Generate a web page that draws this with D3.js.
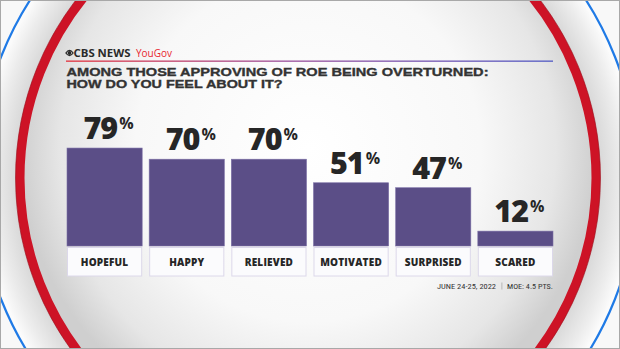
<!DOCTYPE html>
<html><head><meta charset="utf-8">
<script src="https://cdn.jsdelivr.net/npm/d3@7"></script>
<style>html,body{margin:0;padding:0;background:#fff;}svg{display:block;}</style>
</head><body>
<svg id="c" width="620" height="349"></svg>
<script>
const categories = ["HOPEFUL","HAPPY","RELIEVED","MOTIVATED","SURPRISED","SCARED"];
const values = [79,70,70,51,47,12];
const titleLines = ["AMONG THOSE APPROVING OF ROE BEING OVERTURNED:","HOW DO YOU FEEL ABOUT IT?"];
const footerDate = "JUNE 24-25, 2022";
const footerMoe = "MOE: 4.5 PTS.";

const svg = d3.select("#c");
const W = 620, H = 349;
const bold = "'Open Sans', Lato, sans-serif";
const defs = svg.append("defs");
const rg = defs.append("radialGradient").attr("id","inner").attr("cx","50%").attr("cy","45%").attr("r","50%");
rg.append("stop").attr("offset","0%").attr("stop-color","#ffffff");
rg.append("stop").attr("offset","60%").attr("stop-color","#f8f8f8");
rg.append("stop").attr("offset","86%").attr("stop-color","#e6e6e6");
rg.append("stop").attr("offset","100%").attr("stop-color","#cfcfcf");
const band = defs.append("radialGradient").attr("id","band").attr("cx","50%").attr("cy","50%").attr("r","50%");
band.append("stop").attr("offset","85%").attr("stop-color","#c4c4c4");
band.append("stop").attr("offset","90%").attr("stop-color","#dadada");
band.append("stop").attr("offset","96%").attr("stop-color","#ececec");
band.append("stop").attr("offset","100%").attr("stop-color","#fafafa");
const lg = defs.append("linearGradient").attr("id","rule");
lg.append("stop").attr("offset","0%").attr("stop-color","#e3313c");
lg.append("stop").attr("offset","45%").attr("stop-color","#9a4e9a");
lg.append("stop").attr("offset","100%").attr("stop-color","#5059c4");

// background
svg.append("rect").attr("width",W).attr("height",H).attr("fill","#f8f8f8");
const cx = 308, cy = 178;
svg.append("circle").attr("cx",cx).attr("cy",cy).attr("r",330).attr("fill","#fbfbfb").attr("stroke","#1f7ae6").attr("stroke-width",2.2);
svg.append("circle").attr("cx",cx).attr("cy",cy).attr("r",326).attr("fill","url(#band)");
svg.append("circle").attr("cx",cx).attr("cy",cy).attr("r",288).attr("fill","url(#inner)").attr("stroke","#cd1326").attr("stroke-width",9);
svg.append("circle").attr("cx",cx).attr("cy",cy).attr("r",292.5).attr("fill","none").attr("stroke","#9a0d1a").attr("stroke-width",1).attr("opacity",0.6);
svg.append("rect").attr("x",0.5).attr("y",0.5).attr("width",W-1).attr("height",H-1).attr("fill","none").attr("stroke","#a8a8a8").attr("stroke-width",1);

// logo
const eye = svg.append("g").attr("transform","translate(69.5,53)");
eye.append("path").attr("d","M-3.6,0 Q0,-5.2 3.6,0 Q0,5.2 -3.6,0 Z").attr("fill","none").attr("stroke","#2a2a2a").attr("stroke-width",1.3);
eye.append("circle").attr("r",1.9).attr("fill","#2a2a2a");
svg.append("text").attr("x",73.5).attr("y",57).attr("font-family",bold).attr("font-weight",700)
  .attr("font-size",10.5).attr("fill","#2a2a2a").attr("textLength",57).attr("lengthAdjust","spacingAndGlyphs").text("CBS NEWS");
svg.append("text").attr("x",136).attr("y",57).attr("font-family","'Open Sans', sans-serif").attr("font-weight",400)
  .attr("font-size",10.5).attr("fill","#e8262f").attr("textLength",36).attr("lengthAdjust","spacingAndGlyphs").text("YouGov");
svg.append("rect").attr("x",66).attr("y",60.5).attr("width",487).attr("height",1.3).attr("fill","url(#rule)");

// title
svg.selectAll("text.title").data(titleLines).join("text").attr("class","title")
  .attr("x",66.5).attr("y",(d,i)=>75.5+i*12.5)
  .attr("font-family","'Liberation Sans', Arial, sans-serif").attr("font-weight",700).attr("font-size",11)
  .attr("fill","#333333").attr("stroke","#333333").attr("stroke-width",0.35)
  .attr("textLength",(d,i)=>i===0?422:216).attr("lengthAdjust","spacingAndGlyphs")
  .text(d=>d);

// scales
const x = d3.scaleBand().domain(categories).range([67,553]).paddingInner(0.085).paddingOuter(0);
const y = d3.scaleLinear().domain([0,100]).range([246,122]);

const g = svg.append("g");
g.selectAll("rect.bar").data(values).join("rect").attr("class","bar")
  .attr("x",(d,i)=>x(categories[i])).attr("width",x.bandwidth())
  .attr("y",d=>y(d)).attr("height",d=>y(0)-y(d))
  .attr("fill","#5b4e87").attr("stroke","#7c70a6").attr("stroke-width",0.6);

// category boxes
g.selectAll("rect.box").data(categories).join("rect").attr("class","box")
  .attr("x",d=>x(d)+0.5).attr("width",x.bandwidth()-1).attr("y",247.5).attr("height",28.5)
  .attr("fill","#fbfbfd").attr("stroke","#dcd8ea").attr("stroke-width",1);
g.selectAll("text.cat").data(categories).join("text").attr("class","cat")
  .attr("x",d=>x(d)+x.bandwidth()/2).attr("y",266)
  .attr("text-anchor","middle").attr("font-family",bold).attr("font-weight",800)
  .attr("font-size",10).attr("fill","#262626").attr("letter-spacing",0.2).text(d=>d);

// value labels
const vl = g.selectAll("text.val").data(values).join("text").attr("class","val")
  .attr("x",(d,i)=>x(categories[i])+x.bandwidth()/2+4).attr("y",d=>y(d)-9)
  .attr("text-anchor","middle").attr("font-family",bold).attr("font-weight",800)
  .attr("fill","#262626");
vl.append("tspan").attr("font-size",30.5).attr("letter-spacing",-1).text(d=>d);
vl.append("tspan").attr("font-size",16).attr("dy",-10).attr("dx",2).attr("font-weight",700).text("%");

// footer
const ff = "'Roboto Condensed', 'Liberation Sans Narrow', Roboto, sans-serif";
svg.append("text").attr("x",437).attr("y",289).attr("font-family",ff).attr("font-size",7.8).attr("fill","#333")
  .attr("textLength",59).attr("lengthAdjust","spacingAndGlyphs").text(footerDate);
svg.append("rect").attr("x",501.5).attr("y",282.5).attr("width",0.8).attr("height",7).attr("fill","#aaa");
svg.append("text").attr("x",507).attr("y",289).attr("font-family",ff).attr("font-size",7.8).attr("fill","#333")
  .attr("textLength",46).attr("lengthAdjust","spacingAndGlyphs").text(footerMoe);
</script>
</body></html>
